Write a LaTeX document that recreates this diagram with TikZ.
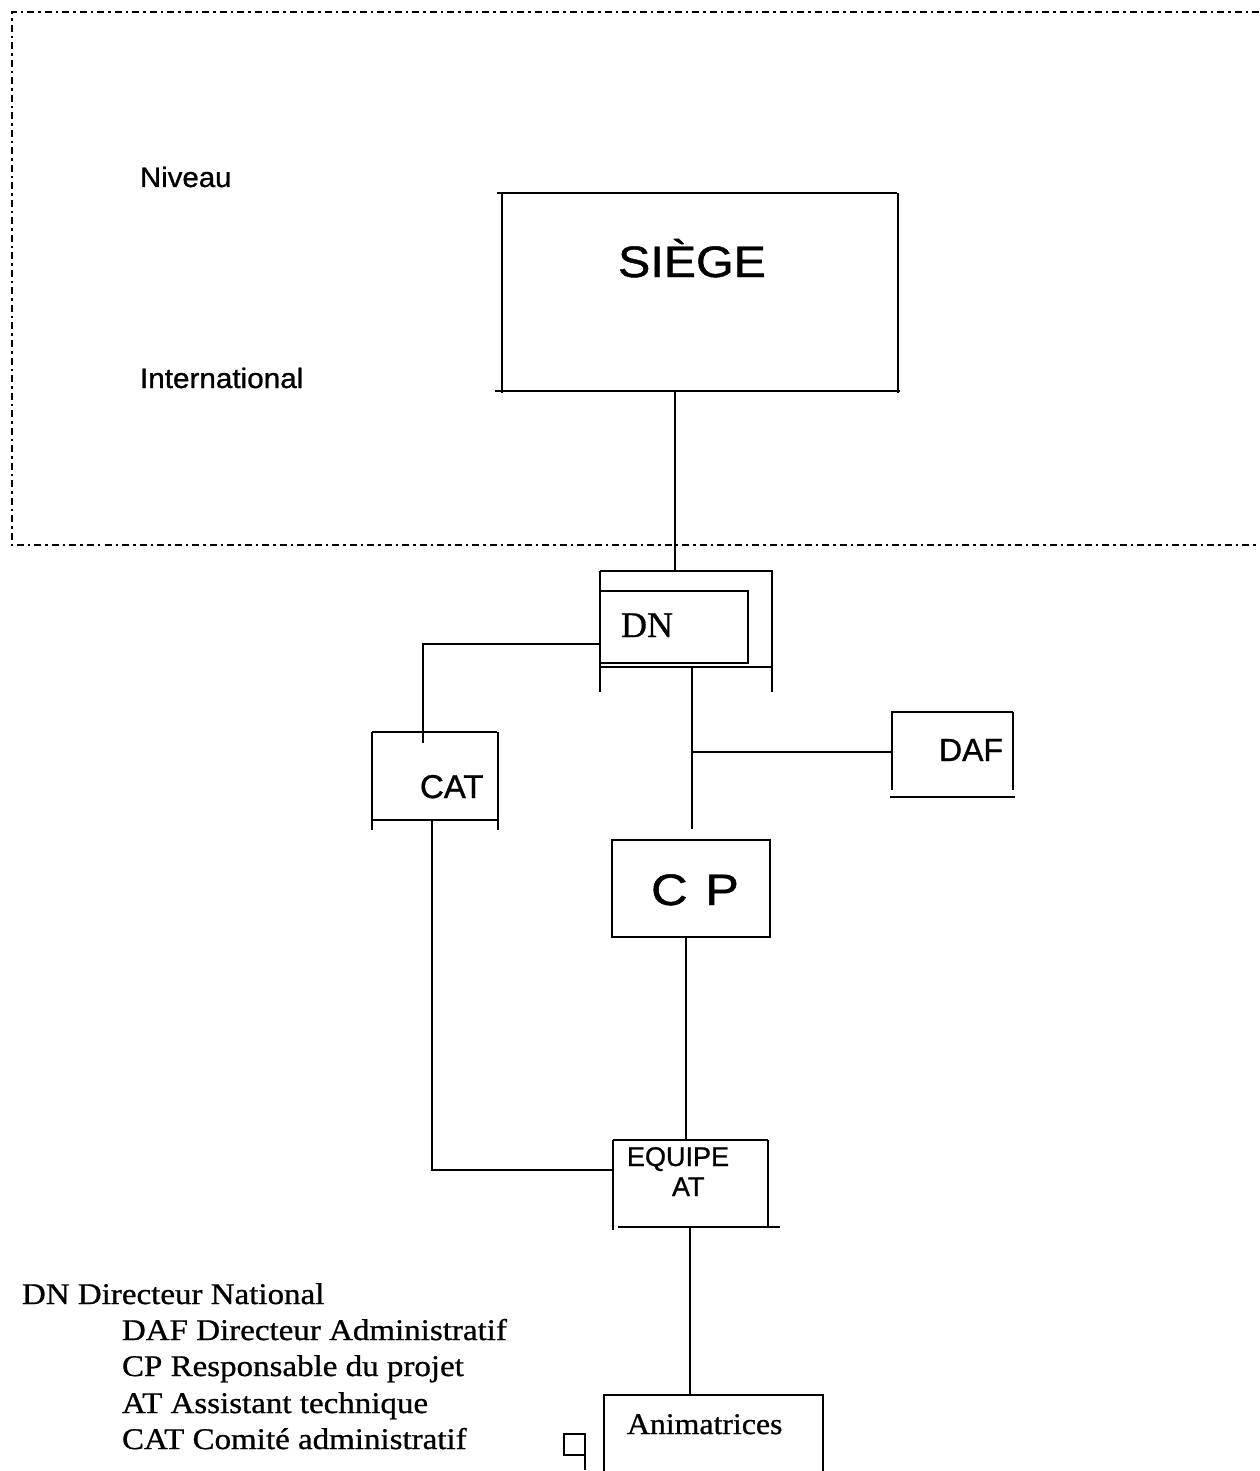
\documentclass[tikz,border=0pt]{standalone}
\usepackage{fontspec}
\setmainfont{Liberation Serif}
\setsansfont{Liberation Sans}
% slightly heavier faces for the labels
\newfontfamily\sanslab[FakeBold=1]{Liberation Sans}
\newfontfamily\seriflab[FakeBold=0.8]{Liberation Serif}
\newcommand\fsz[1]{\fontsize{#1}{#1}\selectfont}
\begin{document}
\begin{tikzpicture}[x=1pt,y=-1pt,
  frame/.style={draw=none,rectangle,inner sep=0pt,outer sep=0pt},
  rule/.style={line width=2.4pt},
  conn/.style={line width=2.2pt},
  sanslbl/.style={font=\sanslab,inner sep=0pt,outer sep=0pt},
  seriflbl/.style={font=\seriflab,inner sep=0pt,outer sep=0pt},
  zone/.style={line width=2.3pt,dash pattern=on 7pt off 4pt on 2.5pt off 4pt}]

\useasboundingbox (0,0) rectangle (1259,1471);

% international level zone (open on the right)
\draw[zone] (1259,12) -- (12,12) -- (12,545) -- (1259,545);

% box frames (named regions)
\node[frame,minimum width=395pt,minimum height=198pt] (siege)  at (700.5,292) {};
\node[frame,minimum width=171pt,minimum height=95pt]  (dnout)  at (686.5,619.5) {};
\node[frame,minimum width=147pt,minimum height=72pt]  (dn)     at (674.5,627) {};
\node[frame,minimum width=126pt,minimum height=88pt]  (cat)    at (435,776) {};
\node[frame,minimum width=121pt,minimum height=85pt]  (daf)    at (952.5,754.5) {};
\node[frame,minimum width=158pt,minimum height=97pt]  (cp)     at (691,888.5) {};
\node[frame,minimum width=154pt,minimum height=87pt]  (equipe) at (690,1183.5) {};
\node[frame,minimum width=220pt,minimum height=76pt]  (anim)   at (713,1433) {};

% SIEGE outline
\draw[rule] (497,193) -- (897,193);
\draw[rule] (502,193) -- (502,393);
\draw[rule] (898,193) -- (898,393);
\draw[rule] (495,391) -- (900,391);

% DN outer and inner outline
\draw[rule] (600,571) -- (773,571);
\draw[rule] (600,571) -- (600,692);
\draw[rule] (772,571) -- (772,692);
\draw[rule] (600,667) -- (773,667);
\draw[rule] (600,591) rectangle (748,663);

% CAT outline
\draw[rule] (372,732) -- (497,732);
\draw[rule] (372,732) -- (372,830);
\draw[rule] (498,732) -- (498,830);
\draw[rule] (372,820) -- (497,820);

% DAF outline
\draw[rule] (891,712) -- (1013,712);
\draw[rule] (892,712) -- (892,790);
\draw[rule] (1013,712) -- (1013,790);
\draw[rule] (890,797) -- (1015,797);

% CP outline
\draw[rule] (612,840) rectangle (770,937);

% EQUIPE AT outline
\draw[rule] (613,1140) -- (768,1140);
\draw[rule] (613,1140) -- (613,1230);
\draw[rule] (768,1140) -- (768,1226);
\draw[rule] (618,1227) -- (780,1227);

% Animatrices outline (runs off the bottom)
\draw[rule] (604,1471) -- (604,1395) -- (823,1395) -- (823,1471);

% small mark beside Animatrices
\draw[line width=2pt] (585,1470) -- (585,1455) -- (564,1455) -- (564,1434) -- (585,1434) -- (585,1455);

% connector positions
\coordinate (xa) at (675,0);
\coordinate (ya) at (0,644);
\coordinate (catIn) at (423,743);
\coordinate (xc) at (692,0);
\coordinate (cpStop) at (692,829);
\coordinate (branch) at (692,752);
\coordinate (xd) at (432,0);
\coordinate (ye) at (0,1170);
\coordinate (xe) at (686,0);
\coordinate (xf) at (690,0);

% connectors
\draw[conn] (siege.south -| xa) -- (dnout.north -| xa);
\draw[conn] (dn.west |- ya) -| (catIn);
\draw[conn] (dnout.south -| xc) -- (cpStop);
\draw[conn] (branch) -- (daf.west |- branch);
\draw[conn] (cat.south -| xd) |- (equipe.west |- ye);
\draw[conn] (cp.south -| xe) -- (equipe.north -| xe);
\draw[conn] (equipe.south -| xf) -- (anim.north -| xf);

% labels
\node[sanslbl,anchor=base west,xscale=1.05] (niveau) at (140,187) {\fsz{28}Niveau};
\node[sanslbl,anchor=base west,xscale=1.06] (intl) at (140,388) {\fsz{28}International};
\node[sanslbl,anchor=base,xscale=1.1] (siegeLbl) at (692,277) {\fsz{44}SIÈGE};
\node[seriflbl,anchor=base west] (dnLbl) at (621,637) {\fsz{36}DN};
\node[sanslbl,anchor=base west] (catLbl) at (420,798) {\fsz{33}CAT};
\node[sanslbl,anchor=base west] (dafLbl) at (939,761) {\fsz{32}DAF};
\node[sanslbl,anchor=base,xscale=1.15] (cpLbl) at (695,905) {\fsz{44}C\hspace{3pt} P};
\node[sanslbl,anchor=base west] (eqLbl) at (627,1166) {\fsz{27}EQUIPE};
\node[sanslbl,anchor=base west] (atLbl) at (672,1196) {\fsz{27}AT};
\node[seriflbl,anchor=base west,xscale=1.06] (animLbl) at (627,1434) {\fsz{30}Animatrices};

% legend
\node[seriflbl,anchor=base west,xscale=1.1] (legDN)  at (22,1304) {\fsz{30}DN Directeur National};
\node[seriflbl,anchor=base west,xscale=1.1] (legDAF) at (122,1340) {\fsz{30}DAF Directeur Administratif};
\node[seriflbl,anchor=base west,xscale=1.1] (legCP)  at (122,1376) {\fsz{30}CP Responsable du projet};
\node[seriflbl,anchor=base west,xscale=1.1] (legAT)  at (122,1413) {\fsz{30}AT Assistant technique};
\node[seriflbl,anchor=base west,xscale=1.1] (legCAT) at (122,1449) {\fsz{30}CAT Comité administratif};
\end{tikzpicture}
\end{document}
